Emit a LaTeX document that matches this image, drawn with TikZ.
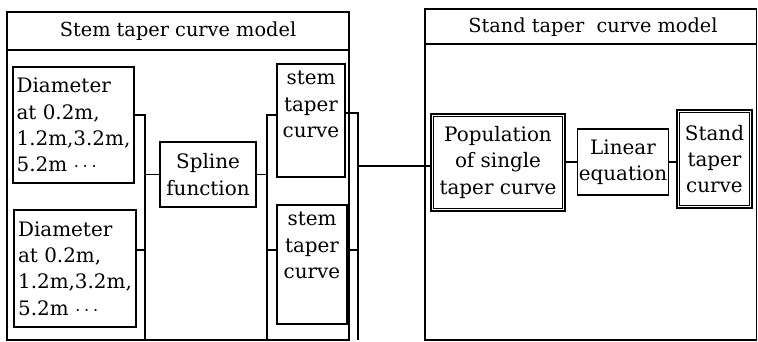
\documentclass[tikz,border=0pt]{standalone}
\usepackage{fontspec}
\setmainfont{DejaVu Serif}
\usetikzlibrary{positioning}

\begin{document}
\begin{tikzpicture}[
  x=0.3mm, y=-0.3mm,
  font=\fontsize{17}{22.5}\selectfont,
  panel/.style={draw=black, line width=0.9pt},
  paneltitle/.style={font=\fontsize{16.5}{20}\selectfont},
  box/.style={draw=black, line width=1.1pt, inner sep=1pt, align=center},
  dblbox/.style={draw=black, line width=1.8pt, inner sep=1pt, align=center},
  boxtext/.style={inner sep=1pt, align=center},
  link/.style={draw=black, line width=1.1pt}
]
  \useasboundingbox (0,0) rectangle (758,342);

  % the two model panels
  \draw[panel] (7,12) rectangle (349,340);
  \draw[panel] (7,50) -- (349,50);
  \node[paneltitle] (ltitle) at (178,31) {Stem taper curve model};
  \draw[panel] (425,9) rectangle (756.5,340);
  \draw[panel] (425,44) -- (756.5,44);
  \node[paneltitle] (rtitle) at (593,27) {Stand taper~ curve model};

  % stem taper curve model
  \node[box, align=left, minimum width=36.3mm, minimum height=34.8mm] (d1) at (73.5,125) {Diameter\\at 0.2m,\\1.2m,3.2m,\\5.2m $\cdots$};
  \node[box, align=left, minimum width=36.6mm, minimum height=35.1mm] (d2) at (75,268.5) {Diameter\\at 0.2m,\\1.2m,3.2m,\\5.2m $\cdots$};
  \node[box, minimum width=28.8mm, minimum height=19.5mm] (spline) at (208,174.5) {Spline\\function};
  \node[box, minimum width=20.4mm, minimum height=33.9mm] (s1) at (311,120.5) {};
  \node[boxtext, below=2mm of s1.north] (s1t) {stem\\taper\\curve};
  \node[box, minimum width=21mm, minimum height=35.7mm] (s2) at (312,264.5) {};
  \node[boxtext, below=2mm of s2.north] (s2t) {stem\\taper\\curve};

  % stand taper curve model
  \node[dblbox, minimum width=40.2mm, minimum height=29.1mm] (pop) at (498,162.5) {Population\\of single\\taper curve};
  \node[box, minimum width=27mm, minimum height=19.8mm] (lin) at (623,162) {Linear\\equation};
  \node[dblbox, minimum width=22.5mm, minimum height=29.4mm] (stand) at (714.5,159) {Stand\\taper\\curve};
  \foreach \n in {pop,stand}
    \draw[line width=0.8pt] ([shift={(1.2mm,-1.2mm)}]\n.north west) rectangle ([shift={(-1.2mm,1.2mm)}]\n.south east);

  % brackets
  \coordinate (ka) at (145,115);
  \coordinate (kaend) at (145,340);
  \coordinate (kb) at (145,250);
  \coordinate (kc) at (267,115);
  \coordinate (kcend) at (267,340);
  \coordinate (kd) at (267,250);
  \coordinate (ke) at (358,113);
  \coordinate (keend) at (358,340);
  \coordinate (kf) at (358,250);
  \coordinate (kg) at (358,166);

  \draw[link] (d1.east |- ka) -- (ka) -- (kaend);
  \draw[link] (d2.east |- kb) -- (kb);
  \draw[link] (ka |- spline.west) -- (spline.west);
  \draw[link] (spline.east) -- (spline.east -| kc);
  \draw[link] (s1.west |- kc) -- (kc) -- (kcend);
  \draw[link] (kd) -- (s2.west |- kd);
  \draw[link] (s1.east |- ke) -- (ke) -- (keend);
  \draw[link] (s2.east |- kf) -- (kf);
  \draw[link] (kg) -- (pop.west |- kg);
  \draw[link] (lin.west -| pop.east) -- (lin.west);
  \draw[link] (lin.east) -- (lin.east -| stand.west);
\end{tikzpicture}
\end{document}
